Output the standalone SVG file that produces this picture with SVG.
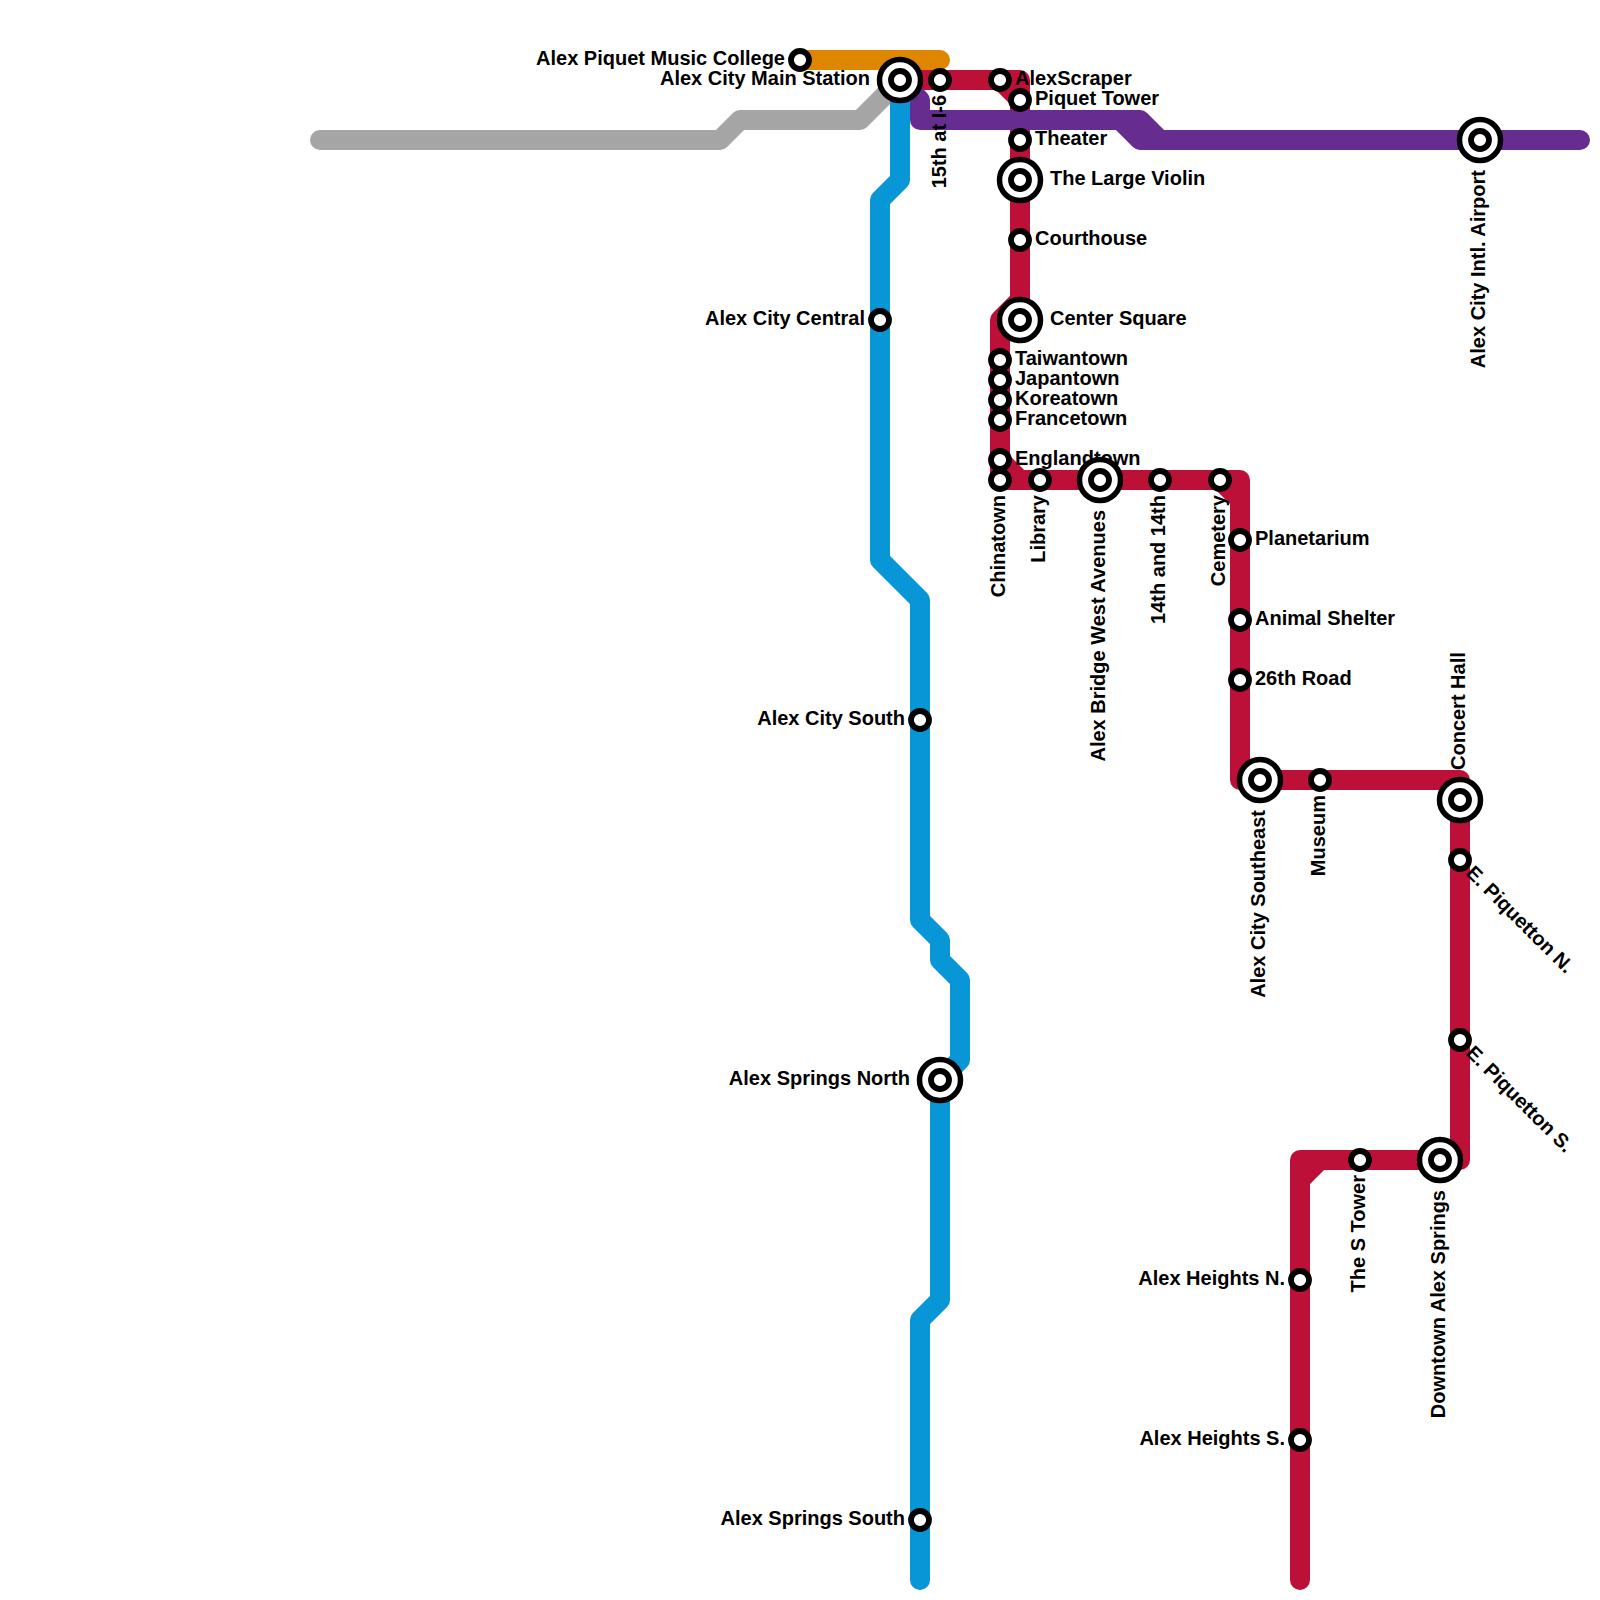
<svg xmlns="http://www.w3.org/2000/svg" width="1600" height="1600" viewBox="0 0 1600 1600">
<style>
.l{fill:none;stroke-width:20;stroke-linecap:round;stroke-linejoin:round}
.s circle{fill:#fff;stroke:#000;stroke-width:5.8}
.s circle.o{stroke-width:5.5}
text{font-family:"Liberation Sans",Arial,sans-serif;font-weight:700;font-size:20px;fill:#000;dominant-baseline:central}
.e{text-anchor:end}
</style>
<rect width="1600" height="1600" fill="#fff"/>
<g id="connectors">
<path class="l" stroke="#a5a5a5" d="M320 140H720L740 120H860L900 80"/>
<path class="l" stroke="#df8600" d="M800 60H940"/>
<path class="l" stroke="#bd1038" d="M900 80H1020V300L1000 320V480H1240V780H1460V1160H1300V1580M1000 80L1020 100M1000 460L1020 480M1220 480L1240 500M1320 1160L1300 1180"/>
<path class="l" stroke="#662c90" d="M900 80L920 100V120H1140L1160 140H1580M1120 120L1140 140H1160"/>
<path class="l" stroke="#0896d7" d="M900 80V180L880 200V560L920 600V920L940 940V960L960 980V1060L940 1080V1300L920 1320V1580"/>
</g>
<g id="n-piquet-college" class="s"><text class="e" x="785" y="58">Alex Piquet Music College</text><circle cx="800" cy="60" r="9"/></g>
<g id="n-main" class="s"><text class="e" x="870" y="78">Alex City Main Station</text><circle class="o" cx="900" cy="80" r="20.5"/><circle cx="900" cy="80" r="9"/></g>
<g id="n-15th" class="s"><text class="e" transform="translate(939 95) rotate(-90)">15th at I-6</text><circle cx="940" cy="80" r="9"/></g>
<g id="n-alexscraper" class="s"><text x="1015" y="78">AlexScraper</text><circle cx="1000" cy="80" r="9"/></g>
<g id="n-piquet-tower" class="s"><text x="1035" y="98">Piquet Tower</text><circle cx="1020" cy="100" r="9"/></g>
<g id="n-theater" class="s"><text x="1035" y="138">Theater</text><circle cx="1020" cy="140" r="9"/></g>
<g id="n-violin" class="s"><text x="1050" y="178">The Large Violin</text><circle class="o" cx="1020" cy="180" r="20.5"/><circle cx="1020" cy="180" r="9"/></g>
<g id="n-courthouse" class="s"><text x="1035" y="238">Courthouse</text><circle cx="1020" cy="240" r="9"/></g>
<g id="n-center" class="s"><text x="1050" y="318">Center Square</text><circle class="o" cx="1020" cy="320" r="20.5"/><circle cx="1020" cy="320" r="9"/></g>
<g id="n-taiwantown" class="s"><text x="1015" y="358">Taiwantown</text><circle cx="1000" cy="360" r="9"/></g>
<g id="n-japantown" class="s"><text x="1015" y="378">Japantown</text><circle cx="1000" cy="380" r="9"/></g>
<g id="n-koreatown" class="s"><text x="1015" y="398">Koreatown</text><circle cx="1000" cy="400" r="9"/></g>
<g id="n-francetown" class="s"><text x="1015" y="418">Francetown</text><circle cx="1000" cy="420" r="9"/></g>
<g id="n-englandtown" class="s"><text x="1015" y="458">Englandtown</text><circle cx="1000" cy="460" r="9"/></g>
<g id="n-chinatown" class="s"><text class="e" transform="translate(998 495) rotate(-90)">Chinatown</text><circle cx="1000" cy="480" r="9"/></g>
<g id="n-library" class="s"><text class="e" transform="translate(1038 495) rotate(-90)">Library</text><circle cx="1040" cy="480" r="9"/></g>
<g id="n-bridge" class="s"><text class="e" transform="translate(1098 510) rotate(-90)">Alex Bridge West Avenues</text><circle class="o" cx="1100" cy="480" r="20.5"/><circle cx="1100" cy="480" r="9"/></g>
<g id="n-14th" class="s"><text class="e" transform="translate(1158 495) rotate(-90)">14th and 14th</text><circle cx="1160" cy="480" r="9"/></g>
<g id="n-cemetery" class="s"><text class="e" transform="translate(1218 495) rotate(-90)">Cemetery</text><circle cx="1220" cy="480" r="9"/></g>
<g id="n-planetarium" class="s"><text x="1255" y="538">Planetarium</text><circle cx="1240" cy="540" r="9"/></g>
<g id="n-shelter" class="s"><text x="1255" y="618">Animal Shelter</text><circle cx="1240" cy="620" r="9"/></g>
<g id="n-26th" class="s"><text x="1255" y="678">26th Road</text><circle cx="1240" cy="680" r="9"/></g>
<g id="n-southeast" class="s"><text class="e" transform="translate(1258 810) rotate(-90)">Alex City Southeast</text><circle class="o" cx="1260" cy="780" r="20.5"/><circle cx="1260" cy="780" r="9"/></g>
<g id="n-museum" class="s"><text class="e" transform="translate(1318 795) rotate(-90)">Museum</text><circle cx="1320" cy="780" r="9"/></g>
<g id="n-concert" class="s"><text transform="translate(1458 770) rotate(-90)">Concert Hall</text><circle class="o" cx="1460" cy="800" r="20.5"/><circle cx="1460" cy="800" r="9"/></g>
<g id="n-piq-n" class="s"><text transform="translate(1470 869) rotate(45)">E. Piquetton N.</text><circle cx="1460" cy="860" r="9"/></g>
<g id="n-piq-s" class="s"><text transform="translate(1470 1049) rotate(45)">E. Piquetton S.</text><circle cx="1460" cy="1040" r="9"/></g>
<g id="n-downtown" class="s"><text class="e" transform="translate(1438 1190) rotate(-90)">Downtown Alex Springs</text><circle class="o" cx="1440" cy="1160" r="20.5"/><circle cx="1440" cy="1160" r="9"/></g>
<g id="n-stower" class="s"><text class="e" transform="translate(1358 1175) rotate(-90)">The S Tower</text><circle cx="1360" cy="1160" r="9"/></g>
<g id="n-heights-n" class="s"><text class="e" x="1285" y="1278">Alex Heights N.</text><circle cx="1300" cy="1280" r="9"/></g>
<g id="n-heights-s" class="s"><text class="e" x="1285" y="1438">Alex Heights S.</text><circle cx="1300" cy="1440" r="9"/></g>
<g id="n-airport" class="s"><text class="e" transform="translate(1478 170) rotate(-90)">Alex City Intl. Airport</text><circle class="o" cx="1480" cy="140" r="20.5"/><circle cx="1480" cy="140" r="9"/></g>
<g id="n-central" class="s"><text class="e" x="865" y="318">Alex City Central</text><circle cx="880" cy="320" r="9"/></g>
<g id="n-south" class="s"><text class="e" x="905" y="718">Alex City South</text><circle cx="920" cy="720" r="9"/></g>
<g id="n-springs-n" class="s"><text class="e" x="910" y="1078">Alex Springs North</text><circle class="o" cx="940" cy="1080" r="20.5"/><circle cx="940" cy="1080" r="9"/></g>
<g id="n-springs-s" class="s"><text class="e" x="905" y="1518">Alex Springs South</text><circle cx="920" cy="1520" r="9"/></g>
</svg>
